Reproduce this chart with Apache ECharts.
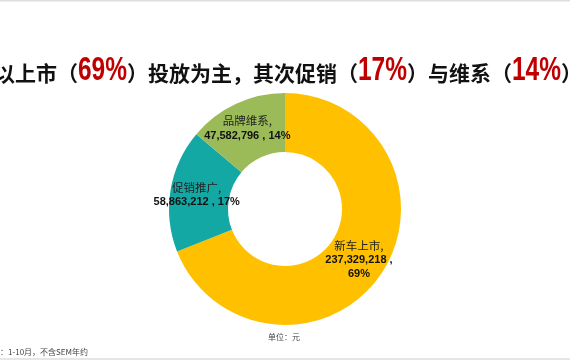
<!DOCTYPE html>
<html><head><meta charset="utf-8">
<script src="https://cdn.jsdelivr.net/npm/echarts@6/dist/echarts.min.js"></script>
<style>html,body{margin:0;padding:0;background:#fff}#c{width:570px;height:360px}</style>
</head><body><div id="c"></div>
<script>
const categories = ['新车上市', '促销推广', '品牌维系'];
const values = [237329218, 58863212, 47582796];
const colors = ['#FFC000', '#14A8A5', '#9BBB59'];
const titleParts = [['以上市（', 'a'], ['69%', 'r'], ['）投放为主，其次促销（', 'a'], ['17%', 'r'], ['）与维系（', 'a'], ['14%', 'r'], ['）', 'a']];
const unitText = '单位：元';
const noteText = '：1-10月，不含SEM年约';

const NUMF = '"Liberation Sans",Arial,sans-serif';
const CJK = '"Noto Sans CJK SC",sans-serif';
const styleA = {font: 'bold 21px ' + CJK, fill: '#111', scale: 1, y: 73};
const styleR = {font: 'bold 34px ' + NUMF, fill: '#C00000', scale: 0.72, y: 71};

// build title as sequential text pieces (numbers horizontally condensed)
const mctx = document.createElement('canvas').getContext('2d');
let cursor = -6;
const titleEls = titleParts.map(function (p) {
  const st = p[1] === 'r' ? styleR : styleA;
  mctx.font = st.font;
  const w = mctx.measureText(p[0]).width * st.scale;
  const el = {
    type: 'text', x: cursor, y: st.y, scaleX: st.scale,
    style: {text: p[0], font: st.font, fill: st.fill, align: 'left', verticalAlign: 'middle'}
  };
  cursor += w;
  return el;
});

const chart = echarts.init(document.getElementById('c'), null, {renderer: 'canvas'});
chart.setOption({
  animation: false,
  backgroundColor: '#fff',
  graphic: [
    {type: 'rect', shape: {x: 0, y: 0, width: 570, height: 1.5}, style: {fill: '#dddddd'}},
    {type: 'rect', shape: {x: 0, y: 358, width: 570, height: 2}, style: {fill: '#e6e6e6'}},
    {type: 'text', x: 284, y: 337, style: {text: unitText, font: '8px ' + CJK, fill: '#444', align: 'center', verticalAlign: 'middle'}},
    {type: 'text', x: 0, y: 352, style: {text: noteText, font: '8px ' + CJK, fill: '#444', align: 'left', verticalAlign: 'middle'}}
  ].concat(titleEls),
  series: [{
    type: 'pie',
    center: [285, 209],
    radius: [57, 116],
    startAngle: 90,
    clockwise: true,
    color: colors,
    itemStyle: {borderWidth: 0},
    label: {
      show: true,
      position: 'inside',
      formatter: function (p) {
        const v = p.value.toLocaleString('en-US');
        const pc = Math.round(p.percent) + '%';
        return '{n|' + p.name + ',}\n{v|' + v + ' ,' + (p.dataIndex === 0 ? '}\n{v|' : ' ') + pc + '}';
      },
      rich: {
        n: {fontFamily: CJK, fontSize: 11.5, color: '#222', lineHeight: 16, align: 'center'},
        v: {fontFamily: NUMF, fontWeight: 'bold', fontSize: 11, color: '#111', lineHeight: 14, align: 'center'}
      }
    },
    labelLine: {show: false},
    data: categories.map((c, i) => ({name: c, value: values[i]}))
  }]
});
</script></body></html>
